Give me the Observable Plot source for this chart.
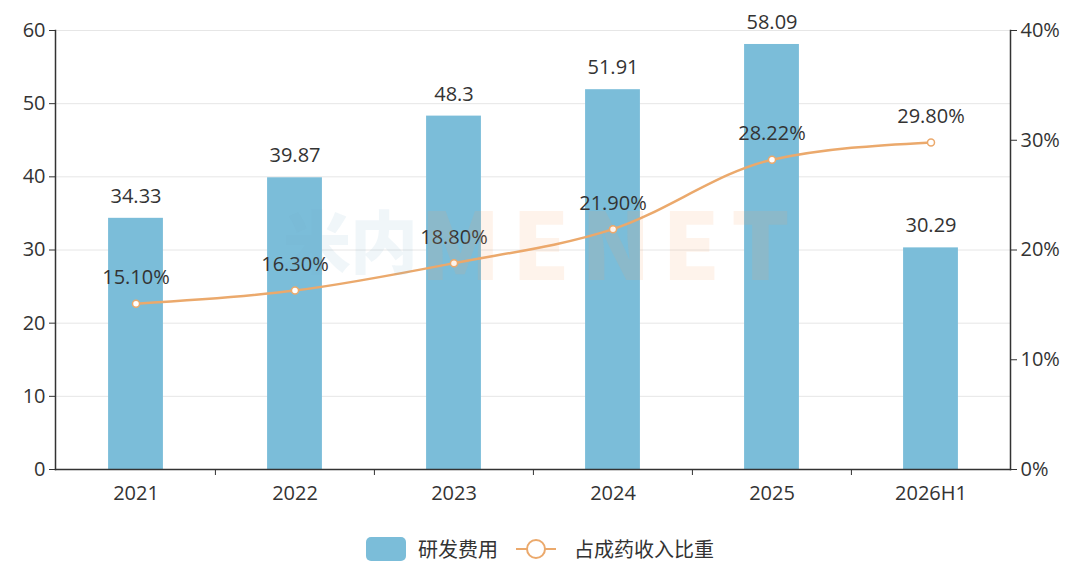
<!DOCTYPE html>
<html>
<head>
<meta charset="utf-8">
<script src="https://cdn.jsdelivr.net/npm/d3@7"></script>
<script src="https://cdn.jsdelivr.net/npm/@observablehq/plot@0.6"></script>
<style>
  html, body { margin: 0; padding: 0; background: #fff; }
  body { width: 1080px; height: 573px; overflow: hidden; position: relative;
         font-family: "Open Sans", "Noto Sans CJK SC", sans-serif; color: #333; }
  #chart { position: absolute; left: 0; top: 0; }
  .wm { position: absolute; font-family: "Noto Sans CJK SC", sans-serif; font-weight: 900; line-height: 1;
        pointer-events: none; white-space: nowrap; }
  .wm.a { left: 283px; top: 205px; font-size: 68px; color: rgba(120, 170, 200, 0.11); letter-spacing: -1px; }
  .wm.b { left: 420px; top: 194px; font-size: 92px; color: rgba(245, 160, 100, 0.13); letter-spacing: 11px; }
  .legend { position: absolute; top: 534px; left: 0; width: 1080px; display: flex; justify-content: center;
            align-items: center; font-family: "Noto Sans CJK SC", sans-serif; font-size: 20px; color: #333; }
  .legend .item { display: flex; align-items: center; }
  .legend .sw-bar { width: 40px; height: 24px; border-radius: 5px; background: #7bbdd9; margin-right: 12px; }
  .legend svg { margin-right: 18px; }
</style>
</head>
<body>
<div id="chart"></div>
<div class="wm a">米内</div>
<div class="wm b">MENET</div>
<div class="legend">
  <div class="item" style="margin-right:18px"><div class="sw-bar"></div><span id="lg1"></span></div>
  <div class="item"><svg width="40" height="24"><line x1="0" y1="12" x2="40" y2="12" stroke="#eba96c" stroke-width="2"/><circle cx="20" cy="12" r="9" fill="#fff" stroke="#eba96c" stroke-width="2"/></svg><span id="lg2"></span></div>
</div>
<script>
const years = ["2021", "2022", "2023", "2024", "2025", "2026H1"];
const rdExpense = [34.33, 39.87, 48.3, 51.91, 58.09, 30.29];
const ratioPct = [15.10, 16.30, 18.80, 21.90, 28.22, 29.80];
const leftTicks = [0, 10, 20, 30, 40, 50, 60];
const rightTicksPct = [0, 10, 20, 30, 40];
const seriesNames = ["研发费用", "占成药收入比重"];

document.getElementById("lg1").textContent = seriesNames[0];
document.getElementById("lg2").textContent = seriesNames[1];

const scaleK = 60 / 40; // right axis 0-40% maps to left 0-60
const data = years.map((y, i) => ({ year: y, rd: rdExpense[i], pct: ratioPct[i], yp: ratioPct[i] * scaleK }));

const W = 1080, H = 515;
const mL = 55, mR = 70, mT = 30, mB = H - 469;
const bw = (W - mL - mR) / years.length;

const barColor = "#7bbdd9";
const lineColor = "#eba96c";
const textColor = "#333";
const fs = 20;

const chart = Plot.plot({
  width: W, height: H,
  marginLeft: mL, marginRight: mR, marginTop: mT, marginBottom: mB,
  style: { fontFamily: '"Open Sans", "Noto Sans CJK SC", sans-serif', fontSize: fs + "px", color: textColor, background: "transparent" },
  x: { type: "band", domain: years, padding: 0, label: null },
  y: { domain: [0, 60], label: null },
  marks: [
    Plot.gridY(leftTicks, { stroke: "#e6e6e6", strokeOpacity: 1, strokeWidth: 1 }),
    Plot.barY(data, { x: "year", y: "rd", fill: barColor, insetLeft: (bw - 55) / 2, insetRight: (bw - 55) / 2 }),
    Plot.text(data, { x: "year", y: "rd", text: d => String(d.rd), dy: -22, fill: textColor, fontSize: fs }),
    Plot.line(data, { x: "year", y: "yp", stroke: lineColor, strokeWidth: 2.5, curve: "monotone-x" }),
    Plot.dot(data, { x: "year", y: "yp", r: 3.5, fill: "#fff", stroke: lineColor, strokeWidth: 1.5 }),
    Plot.text(data, { x: "year", y: "yp", text: d => d.pct.toFixed(2) + "%", dy: -26, fill: textColor, fontSize: fs }),
    Plot.axisY(leftTicks, { anchor: "left", tickSize: 6, tickPadding: 4, stroke: "#333", fill: textColor, fontSize: fs, label: null }),
    Plot.axisY(rightTicksPct.map(p => p * scaleK), { anchor: "right", tickSize: 6, tickPadding: 4, stroke: "#333", fill: textColor, fontSize: fs, label: null, tickFormat: d => Math.round(d / scaleK) + "%" }),
    Plot.axisX({ anchor: "bottom", tickSize: 0, tickPadding: 16, fill: textColor, fontSize: fs, label: null }),
    Plot.axisX(years.slice(1), { anchor: "bottom", tickSize: 6, text: null, dx: -bw / 2, stroke: "#333", label: null }),
    Plot.frame({ anchor: "left", stroke: "#333", strokeWidth: 1.5 }),
    Plot.frame({ anchor: "right", stroke: "#333", strokeWidth: 1.5 }),
    Plot.frame({ anchor: "bottom", stroke: "#333", strokeWidth: 1.5 })
  ]
});
document.getElementById("chart").appendChild(chart);
</script>
</body>
</html>
